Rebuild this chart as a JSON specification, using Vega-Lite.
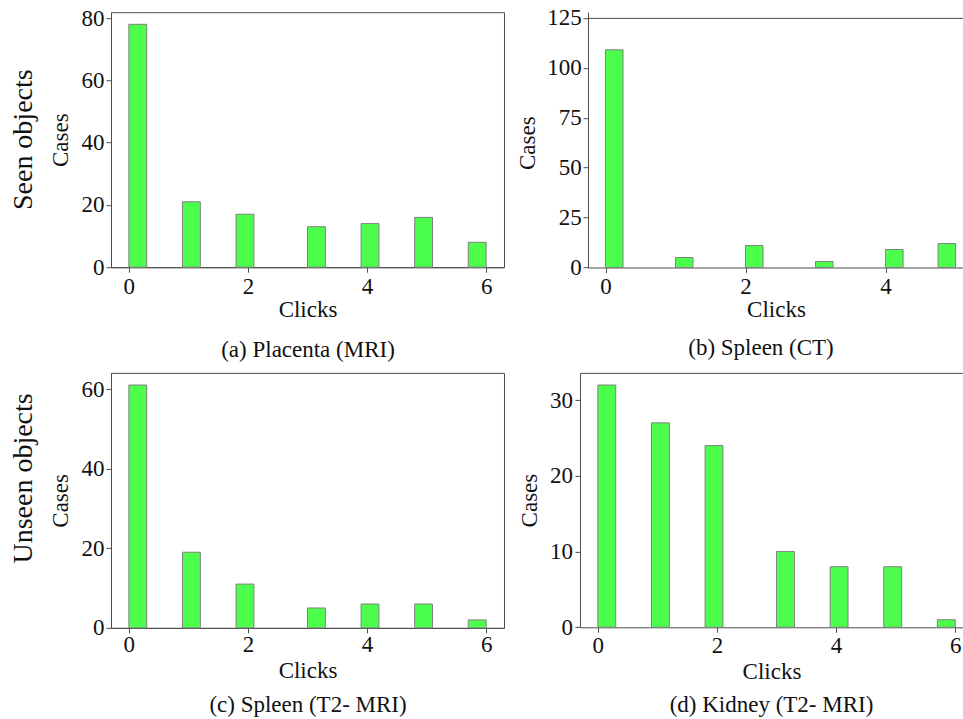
{
  "$schema": "https://vega.github.io/schema/vega-lite/v6.json",
  "padding": {"left": 9, "top": 6.2, "right": 0, "bottom": 0},
  "background": "white",
  "data": {
    "values": [
      {"panel": "a", "start": 0.0, "end": 0.3, "count": 78},
      {"panel": "a", "start": 0.9, "end": 1.2, "count": 21},
      {"panel": "a", "start": 1.8, "end": 2.1, "count": 17},
      {"panel": "a", "start": 3.0, "end": 3.3, "count": 13},
      {"panel": "a", "start": 3.9, "end": 4.2, "count": 14},
      {"panel": "a", "start": 4.8, "end": 5.1, "count": 16},
      {"panel": "a", "start": 5.7, "end": 6.0, "count": 8},
      {"panel": "b", "start": 0.0, "end": 0.25, "count": 109},
      {"panel": "b", "start": 1.0, "end": 1.25, "count": 5},
      {"panel": "b", "start": 2.0, "end": 2.25, "count": 11},
      {"panel": "b", "start": 3.0, "end": 3.25, "count": 3},
      {"panel": "b", "start": 4.0, "end": 4.25, "count": 9},
      {"panel": "b", "start": 4.75, "end": 5.0, "count": 12},
      {"panel": "c", "start": 0.0, "end": 0.3, "count": 61},
      {"panel": "c", "start": 0.9, "end": 1.2, "count": 19},
      {"panel": "c", "start": 1.8, "end": 2.1, "count": 11},
      {"panel": "c", "start": 3.0, "end": 3.3, "count": 5},
      {"panel": "c", "start": 3.9, "end": 4.2, "count": 6},
      {"panel": "c", "start": 4.8, "end": 5.1, "count": 6},
      {"panel": "c", "start": 5.7, "end": 6.0, "count": 2},
      {"panel": "d", "start": 0.0, "end": 0.3, "count": 32},
      {"panel": "d", "start": 0.9, "end": 1.2, "count": 27},
      {"panel": "d", "start": 1.8, "end": 2.1, "count": 24},
      {"panel": "d", "start": 3.0, "end": 3.3, "count": 10},
      {"panel": "d", "start": 3.9, "end": 4.2, "count": 8},
      {"panel": "d", "start": 4.8, "end": 5.1, "count": 8},
      {"panel": "d", "start": 5.7, "end": 6.0, "count": 1}
    ]
  },
  "spacing": 9.7,
  "vconcat": [
    {
      "spacing": 11,
      "hconcat": [
        {
          "width": 393,
          "height": 255,
          "transform": [{"filter": "datum.panel == 'a'"}],
          "title": {"text": "Seen objects", "orient": "left", "anchor": "middle", "frame": "group", "fontSize": 28, "offset": 11.5},
          "mark": {"type": "bar", "fill": "#4dff4d", "stroke": "#808080", "strokeWidth": 1},
          "encoding": {
            "x": {"field": "start", "type": "quantitative", "scale": {"domain": [-0.3, 6.3], "nice": false, "zero": false},
                  "axis": {"values": [0, 2, 4, 6], "title": ["Clicks", "(a) Placenta (MRI)"], "titleLineHeight": 40, "labelPadding": 3, "titlePadding": 0}},
            "x2": {"field": "end"},
            "y": {"field": "count", "type": "quantitative", "scale": {"domain": [0, 81.9], "nice": false},
                  "axis": {"values": [0, 20, 40, 60, 80], "title": "Cases", "labelPadding": 2, "titlePadding": 8.2}},
            "y2": {"datum": 0}
          }
        },
        {
          "width": 376,
          "height": 255.3,
          "view": {"stroke": null},
          "transform": [{"filter": "datum.panel == 'b'"}],
          "title": {"text": "(b) Spleen (CT)", "orient": "bottom", "anchor": "middle", "frame": "group", "fontSize": 23, "offset": 16, "dx": -15},
          "layer": [
            {
              "mark": {"type": "bar", "fill": "#4dff4d", "stroke": "#808080", "strokeWidth": 1},
              "encoding": {
                "x": {"field": "start", "type": "quantitative", "scale": {"domain": [-0.25, 5.12], "nice": false, "zero": false},
                      "axis": {"values": [0, 2, 4], "title": "Clicks", "labelPadding": 3, "titlePadding": 0}},
                "x2": {"field": "end"},
                "y": {"field": "count", "type": "quantitative", "scale": {"domain": [0, 127.86], "nice": false},
                      "axis": {"values": [0, 25, 50, 75, 100, 125], "title": "Cases", "titleY": 130.5, "labelPadding": 1.7, "titlePadding": 6.9}},
                "y2": {"datum": 0}
              }
            },
            {
              "mark": {"type": "bar", "opacity": 0},
              "encoding": {
                "x": {"field": "start", "type": "quantitative", "axis": {"orient": "top", "offset": -5.7, "labels": false, "ticks": false, "title": null, "domain": true}},
                "x2": {"field": "end"},
                "y": {"field": "count", "type": "quantitative"},
                "y2": {"datum": 0}
              }
            }
          ],
          "resolve": {"axis": {"x": "independent"}}
        }
      ]
    },
    {
      "spacing": 14,
      "hconcat": [
        {
          "width": 393,
          "height": 255,
          "transform": [{"filter": "datum.panel == 'c'"}],
          "title": {"text": "Unseen objects", "orient": "left", "anchor": "middle", "frame": "group", "fontSize": 28, "offset": 11.5, "dx": 22},
          "mark": {"type": "bar", "fill": "#4dff4d", "stroke": "#808080", "strokeWidth": 1},
          "encoding": {
            "x": {"field": "start", "type": "quantitative", "scale": {"domain": [-0.3, 6.3], "nice": false, "zero": false},
                  "axis": {"values": [0, 2, 4, 6], "title": ["Clicks", "(c) Spleen (T2- MRI)"], "titleLineHeight": 33.3, "labelPadding": 0.5, "titlePadding": 3.5}},
            "x2": {"field": "end"},
            "y": {"field": "count", "type": "quantitative", "scale": {"domain": [0, 64.05], "nice": false},
                  "axis": {"values": [0, 20, 40, 60], "title": "Cases", "labelPadding": 2, "titlePadding": 8.2}},
            "y2": {"datum": 0}
          }
        },
        {
          "width": 383,
          "height": 254.4,
          "view": {"stroke": null},
          "transform": [{"filter": "datum.panel == 'd'"}],
          "title": {"text": "(d) Kidney (T2- MRI)", "orient": "bottom", "anchor": "middle", "frame": "group", "fontSize": 23, "offset": 11},
          "layer": [
            {
              "mark": {"type": "bar", "fill": "#4dff4d", "stroke": "#808080", "strokeWidth": 1},
              "encoding": {
                "x": {"field": "start", "type": "quantitative", "scale": {"domain": [-0.3, 6.13], "nice": false, "zero": false},
                      "axis": {"values": [0, 2, 4, 6], "title": "Clicks", "labelPadding": 2, "titlePadding": 3}},
                "x2": {"field": "end"},
                "y": {"field": "count", "type": "quantitative", "scale": {"domain": [0, 33.6], "nice": false},
                      "axis": {"values": [0, 10, 20, 30], "title": "Cases", "labelPadding": 2.6, "titlePadding": 7.4}},
                "y2": {"datum": 0}
              }
            },
            {
              "mark": {"type": "bar", "opacity": 0},
              "encoding": {
                "x": {"field": "start", "type": "quantitative", "axis": {"orient": "top", "labels": false, "ticks": false, "title": null, "domain": true}},
                "x2": {"field": "end"},
                "y": {"field": "count", "type": "quantitative"},
                "y2": {"datum": 0}
              }
            }
          ],
          "resolve": {"axis": {"x": "independent"}}
        }
      ]
    }
  ],
  "config": {
    "font": "Liberation Serif",
    "view": {"stroke": "#4d4d4d", "strokeWidth": 1},
    "axis": {
      "grid": false,
      "domainColor": "#4d4d4d",
      "tickColor": "#4d4d4d",
      "tickSize": 5,
      "labelFont": "Liberation Serif",
      "titleFont": "Liberation Serif",
      "labelFontSize": 23,
      "titleFontSize": 23,
      "titleFontWeight": "normal",
      "labelColor": "#111111",
      "titleColor": "#111111",
      "labelFlush": false,
      "labelOverlap": false
    },
    "title": {"font": "Liberation Serif", "fontWeight": "normal", "color": "#111111"}
  }
}
